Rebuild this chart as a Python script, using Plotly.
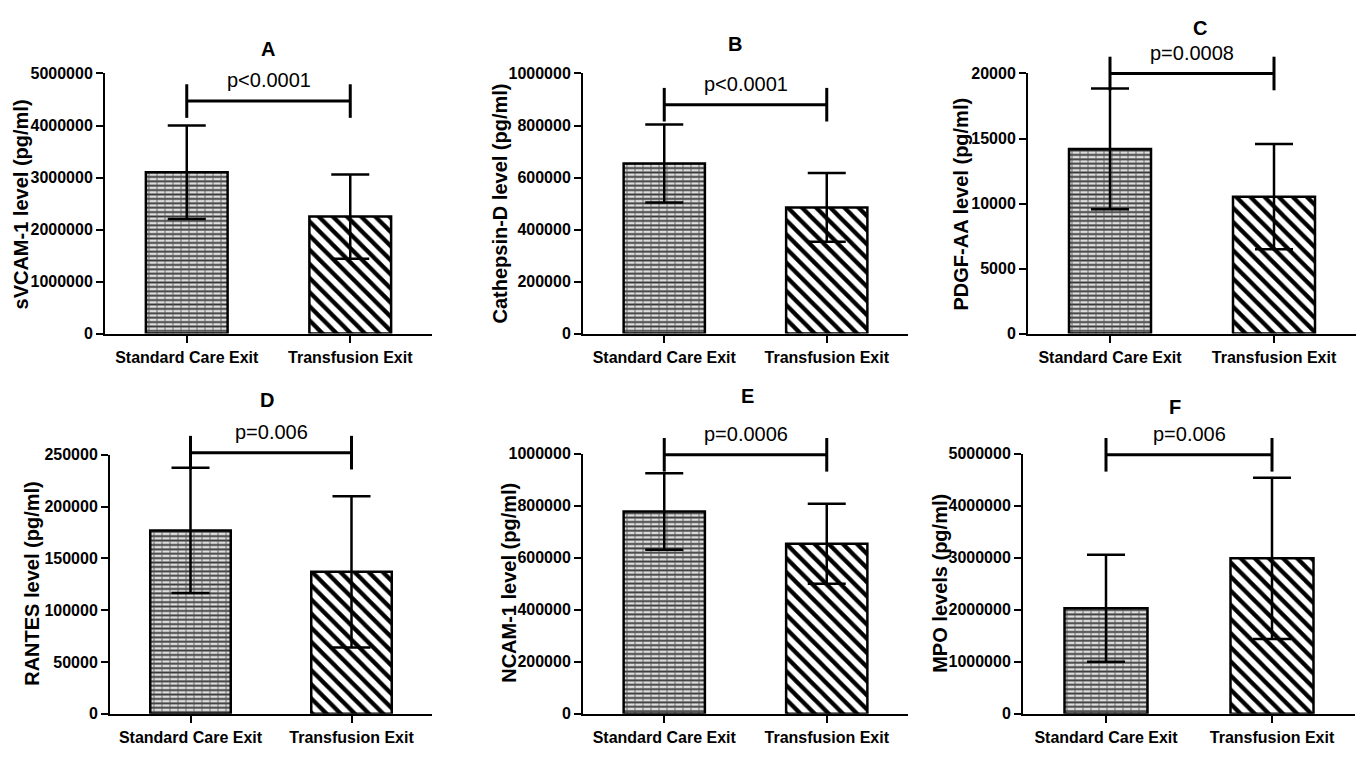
import plotly.graph_objects as go

# ---------------- data ----------------
categories = ["Standard Care Exit", "Transfusion Exit"]
panel_letters = ["A", "B", "C", "D", "E", "F"]
y_titles = ["sVCAM-1 level (pg/ml)", "Cathepsin-D level (pg/ml)", "PDGF-AA level (pg/ml)",
            "RANTES level (pg/ml)", "NCAM-1 level (pg/ml)", "MPO levels (pg/ml)"]
p_labels = ["p<0.0001", "p<0.0001", "p=0.0008", "p=0.006", "p=0.0006", "p=0.006"]

means_A = [3100000, 2250000]
sd_A = [900000, 810000]
means_B = [654000, 485000]
sd_B = [150000, 132000]
means_C = [14200, 10530]
sd_C = [4650, 4050]
means_D = [177000, 137000]
sd_D = [60500, 73000]
means_E = [778000, 654000]
sd_E = [147000, 154000]
means_F = [2030000, 2990000]
sd_F = [1030000, 1550000]

all_means = [means_A, means_B, means_C, means_D, means_E, means_F]
all_sd = [sd_A, sd_B, sd_C, sd_D, sd_E, sd_F]

bracket_y = [4470000, 880000, 20000, 252000, 996000, 4980000]
y_max = [5000000, 1000000, 20000, 250000, 1000000, 5000000]
y_dtick = [1000000, 200000, 5000, 50000, 200000, 1000000]

# ---------------- layout geometry (pixels in a 1360 x 758 page) ----------------
W, H = 1360, 758
panel_px = [  # x0, x1, ytop, ybottom
    (105, 432, 67, 333),
    (583, 908, 67, 333),
    (1028, 1356, 67, 333),
    (110, 432, 457, 722),
    (583, 908, 456, 722),
    (1023, 1355, 456, 722),
]
title_px = [(268, 42), (735, 37), (1200, 20), (267, 401), (747, 397), (1175, 408)]
ytitle_px = [(21, 201), (500, 200), (961, 201), (32, 589), (509, 588), (940, 589)]
EXT = 30  # extra headroom (px) of the hidden axis that carries the brackets

FONT = "Liberation Sans, Arial, sans-serif"

fig = go.Figure()
annotations = []

for i in range(6):
    ax = "" if i == 0 else str(i + 1)
    hid = str(i + 7)
    xa, ya, yh = "x" + ax, "y" + ax, "y" + hid
    x0, x1, yt, yb = panel_px[i]
    m, s = all_means[i], all_sd[i]

    # base bars: horizontal mortar lines (brick) / diagonal stripes
    fig.add_trace(go.Bar(
        x=categories, y=m, xaxis=xa, yaxis=ya, width=0.5, showlegend=False,
        marker=dict(color="white", line=dict(width=0),
                    pattern=dict(shape=["-", "\\"], fgcolor=["#383838", "black"],
                                 bgcolor=["#dedede", "white"], size=[4.4, 10],
                                 solidity=[0.42, 0.42], fillmode="replace")),
        hoverinfo="skip",
    ))
    # overlay bars: vertical brick joints, outline and error bars
    fig.add_trace(go.Bar(
        x=categories, y=m, xaxis=xa, yaxis=ya, width=0.5, showlegend=False,
        marker=dict(color="rgba(0,0,0,0)", line=dict(width=2.5, color="black"),
                    pattern=dict(shape=["|", ""], fgcolor=["#505050", "black"],
                                 bgcolor=["rgba(0,0,0,0)", "rgba(0,0,0,0)"], size=[8, 8],
                                 solidity=[0.2, 0.1], fillmode="overlay")),
        error_y=dict(type="data", array=s, visible=True, color="black", thickness=2.5, width=19),
        cliponaxis=False,
    ))
    # significance bracket (on a hidden axis with identical scale but extra headroom)
    fig.add_trace(go.Scatter(
        x=categories, y=[bracket_y[i], bracket_y[i]], xaxis=xa, yaxis=yh,
        mode="lines+markers", showlegend=False, cliponaxis=False,
        line=dict(color="black", width=3),
        marker=dict(symbol="line-ns-open", size=24, line=dict(width=3, color="black"), color="black"),
        hoverinfo="skip",
    ))
    annotations.append(dict(
        x=0.5, y=bracket_y[i], xref=xa, yref=yh, text=p_labels[i], showarrow=False,
        yshift=21, font=dict(family=FONT, size=20, color="black"),
    ))
    # panel letter
    annotations.append(dict(
        x=title_px[i][0] / W, y=1 - title_px[i][1] / H, xref="paper", yref="paper",
        text=panel_letters[i], showarrow=False, xanchor="center", yanchor="middle",
        font=dict(family=FONT, size=20, color="black", weight=700),
    ))
    # y-axis title
    annotations.append(dict(
        x=ytitle_px[i][0] / W, y=1 - ytitle_px[i][1] / H, xref="paper", yref="paper",
        text=y_titles[i], showarrow=False, textangle=-90, xanchor="center", yanchor="middle",
        font=dict(family=FONT, size=20, color="black", weight=700),
    ))

    fig.update_layout({
        "xaxis" + ax: dict(
            domain=[x0 / W, x1 / W], anchor=ya, range=[-0.5, 1.5], type="category",
            showline=True, linecolor="black", linewidth=2, ticks="outside", ticklen=7,
            tickwidth=2, tickcolor="black", showgrid=False, zeroline=False,
            ticklabelstandoff=1,
            tickfont=dict(family=FONT, size=16, color="black", weight=700),
        ),
        "yaxis" + ax: dict(
            domain=[1 - yb / H, 1 - yt / H], anchor=xa, range=[0, y_max[i]],
            dtick=y_dtick[i], tick0=0, tickformat="d",
            showline=True, linecolor="black", linewidth=2, ticks="outside", ticklen=7,
            tickwidth=2, tickcolor="black", showgrid=False, zeroline=False,
            tickfont=dict(family=FONT, size=16, color="black", weight=700),
        ),
        "yaxis" + hid: dict(
            domain=[1 - yb / H, 1 - (yt - EXT) / H], anchor=xa,
            range=[0, y_max[i] * (yb - yt + EXT) / (yb - yt)],
            visible=False, showgrid=False, zeroline=False,
        ),
    })

fig.update_layout(
    width=W, height=H, autosize=False, barmode="overlay",
    margin=dict(l=0, r=0, t=0, b=0),
    paper_bgcolor="white", plot_bgcolor="rgba(0,0,0,0)",
    annotations=annotations,
)

fig.write_html("out.html", config={"displayModeBar": False},
               post_script="document.body.style.margin='0';")
